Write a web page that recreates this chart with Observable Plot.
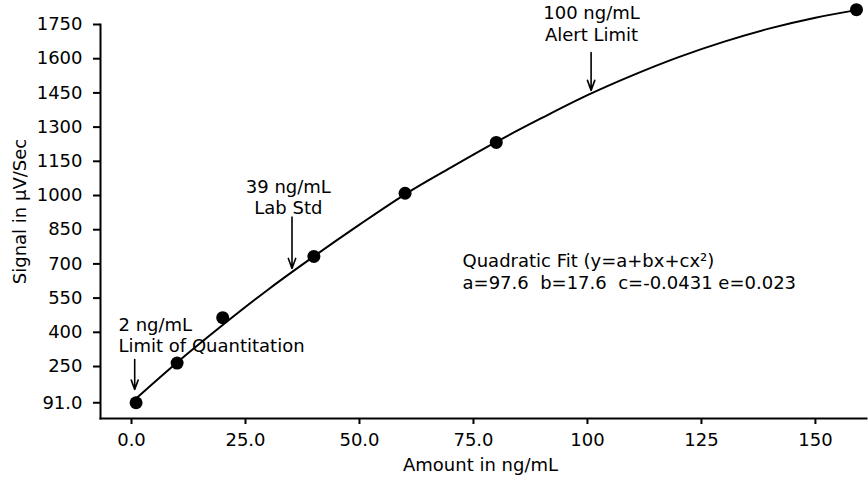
<!DOCTYPE html>
<html><head><meta charset="utf-8">
<script src="https://cdn.jsdelivr.net/npm/d3@7"></script>
<script src="https://cdn.jsdelivr.net/npm/@observablehq/plot@0.6"></script>
<style>
body{margin:0;background:#fff;}
#chart svg{font-family:"DejaVu Sans",sans-serif;}
</style>
</head><body><div id="chart"></div>
<script>
// Calibration standards (ng/mL) and measured signal (µV/Sec)
const amount = [1, 10, 20, 40, 60, 80, 159];
const signal = [91, 265, 464, 733, 1010, 1233, 1815];

// Fitted curve
const fitAmount = [1, 10, 20, 30, 40, 50, 60, 70, 80, 90, 100, 110, 120, 130, 140, 150, 159];
const fitSignal = [110, 268, 432, 588, 733, 872, 1005, 1122, 1235, 1340, 1440, 1528, 1607, 1675, 1733, 1780, 1813];

// Axis ticks
const xTicks = [0, 25, 50, 75, 100, 125, 150];
const xTickLabels = ["0.0", "25.0", "50.0", "75.0", "100", "125", "150"];
const yTicks = [91, 250, 400, 550, 700, 850, 1000, 1150, 1300, 1450, 1600, 1750];
const yTickLabels = ["91.0", "250", "400", "550", "700", "850", "1000", "1150", "1300", "1450", "1600", "1750"];

// Annotations
const noteText = ["2 ng/mL\nLimit of Quantitation", "39 ng/mL\nLab Std", "100 ng/mL\nAlert Limit"];
const noteX = [-2.85, 34.4, 100.9];
const noteY = [390, 996, 1757];
const noteAnchor = ["start", "middle", "middle"];
const arrowX = [0.7, 35.2, 100.8];
const arrowFrom = [281, 905, 1627];
const arrowTo = [149, 680, 1461];

const fitLabel = ["Quadratic Fit (y=a+bx+cx²)\na=97.6  b=17.6  c=-0.0431 e=0.023"];
const fitLabelX = [72.6];
const fitLabelY = [669];

const xLabel = "Amount in ng/mL";
const yLabel = "Signal in μV/Sec";

const curve = fitAmount.map((x, i) => ({x, y: fitSignal[i]}));
const pts = amount.map((x, i) => ({x, y: signal[i]}));
const notes = noteText.map((t, i) => ({t, x: noteX[i], y: noteY[i], a: noteAnchor[i]}));
const arrows = arrowX.map((x, i) => ({x, y1: arrowFrom[i], y2: arrowTo[i]}));

const chart = Plot.plot({
  width: 868,
  height: 486,
  marginLeft: 100,
  marginRight: 2,
  marginTop: 24,
  marginBottom: 68,
  x: {domain: [-6.8, 161.2]},
  y: {domain: [22, 1750]},
  style: {fontSize: "18px", fontFamily: "DejaVu Sans", color: "#000", background: "#fff"},
  marks: [
    Plot.frame({anchor: "bottom", strokeWidth: 2}),
    Plot.frame({anchor: "left", strokeWidth: 2}),
    Plot.axisX({ticks: xTicks, tickFormat: d => xTickLabels[xTicks.indexOf(d)], tickSize: 6, tickPadding: 9, label: null, strokeWidth: 2, fontSize: 18}),
    Plot.axisY({ticks: yTicks, tickFormat: d => yTickLabels[yTicks.indexOf(d)], tickSize: 7, tickPadding: 11, label: null, strokeWidth: 2, fontSize: 18}),
    Plot.line(curve, {x: "x", y: "y", curve: "monotone-x", stroke: "#000", strokeWidth: 2}),
    Plot.dot(pts, {x: "x", y: "y", r: 6.5, fill: "#000", stroke: "none"}),
    Plot.arrow(arrows, {x1: "x", x2: "x", y1: "y1", y2: "y2", stroke: "#000", strokeWidth: 1.6, headLength: 10, headAngle: 40}),
    Plot.text(notes.filter(d => d.a === "start"), {x: "x", y: "y", text: "t", textAnchor: "start", lineHeight: 1.2, fontSize: 18}),
    Plot.text(notes.filter(d => d.a === "middle"), {x: "x", y: "y", text: "t", textAnchor: "middle", lineHeight: 1.2, fontSize: 18}),
    Plot.text(fitLabel, {x: () => fitLabelX[0], y: () => fitLabelY[0], text: d => d, textAnchor: "start", lineHeight: 1.2, fontSize: 18}),
    Plot.text([xLabel], {frameAnchor: "bottom", text: d => d, dy: 52, dx: -3, fontSize: 18}),
    Plot.text([yLabel], {frameAnchor: "left", text: d => d, textAnchor: "middle", rotate: -90, dx: -80, dy: -10, fontSize: 18})
  ]
});
document.getElementById("chart").appendChild(chart);
</script>
</body></html>
